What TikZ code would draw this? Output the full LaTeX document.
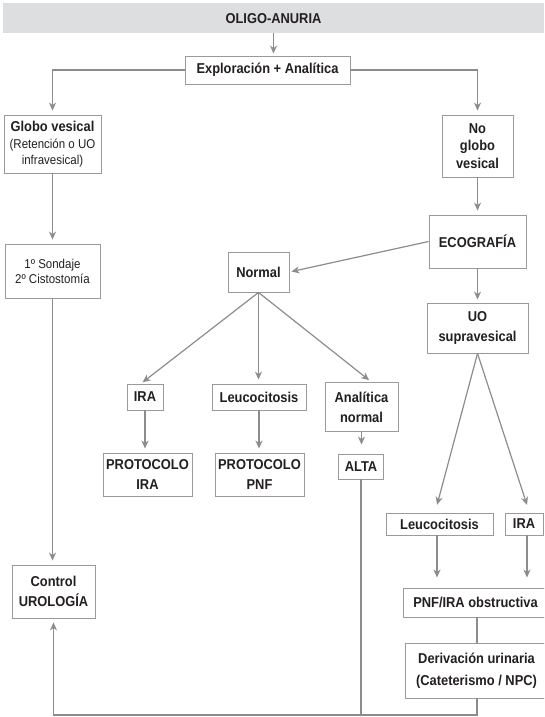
\documentclass[tikz,border=0pt]{standalone}
\usepackage{fontspec}
\setmainfont{Liberation Sans}[FakeStretch=0.9]
\usetikzlibrary{arrows.meta}
\definecolor{lc}{HTML}{8C8C8C}
\definecolor{bc}{HTML}{9A9A9A}
\definecolor{tc}{HTML}{231F20}
\definecolor{barc}{HTML}{DDDEDF}
\begin{document}
\begin{tikzpicture}[x=1pt,y=-1pt,
 box/.style={draw=bc,line width=0.9pt,fill=white,text=tc,align=center,inner sep=0pt,font=\fontsize{14.3}{20}\selectfont\bfseries},
 reg/.style={font=\fontsize{12.8}{15}\selectfont\mdseries},
 arr/.style={draw=lc,line width=1.2pt,-{Stealth[length=8pt,width=7pt,inset=2.5pt]},shorten >=4pt},
 ln/.style={draw=lc,line width=1.2pt}]
\useasboundingbox (0,0) rectangle (544,717);
\clip (0,0) rectangle (544,717);
\coordinate (ybot) at (0,715);
% nodes
\node[fill=barc,minimum width=541pt,minimum height=29.5pt,inner sep=0pt,text=tc,font=\fontsize{14.3}{20}\selectfont\bfseries] (bar) at (273.5,18.25) {OLIGO-ANURIA};
\node[box,minimum width=165pt,minimum height=28pt] (expl) at (267.5,70) {Exploración + Analítica};
\node[box,minimum width=97pt,minimum height=58pt] (globo) at (52.5,144) {Globo vesical\\[-3pt]{\mdseries\fontsize{12.8}{15}\selectfont (Retención o UO}\\[-4pt]{\mdseries\fontsize{12.8}{15}\selectfont infravesical)}};
\node[box,reg,minimum width=95pt,minimum height=54pt] (sond) at (52.5,271) {1º Sondaje\\2º Cistostomía};
\node[box,minimum width=83pt,minimum height=53pt] (control) at (53.5,591.5) {Control\\UROLOGÍA};
\node[box,minimum width=71pt,minimum height=62pt,font=\fontsize{14.3}{17.5}\selectfont\bfseries] (noglobo) at (477.5,146) {No\\globo\\vesical};
\node[box,minimum width=97pt,minimum height=53pt] (eco) at (477.5,241.5) {ECOGRAFÍA};
\node[box,minimum width=61pt,minimum height=40pt] (normal) at (258.5,272) {Normal};
\node[box,minimum width=101pt,minimum height=50pt] (uo) at (477.5,328) {UO\\supravesical};
\node[box,minimum width=36pt,minimum height=26pt] (ira1) at (145,397) {IRA};
\node[box,minimum width=94pt,minimum height=26pt] (leu1) at (259,397) {Leucocitosis};
\node[box,minimum width=73pt,minimum height=49pt] (anal) at (361.5,407) {Analítica\\normal};
\node[box,minimum width=89pt,minimum height=43pt] (pira) at (147.5,474.5) {PROTOCOLO\\IRA};
\node[box,minimum width=89pt,minimum height=43pt] (ppnf) at (259.5,474.5) {PROTOCOLO\\PNF};
\node[box,minimum width=45pt,minimum height=25pt] (alta) at (361,466.5) {ALTA};
\node[box,minimum width=107pt,minimum height=22pt] (leu2) at (439.5,524) {Leucocitosis};
\node[box,minimum width=38pt,minimum height=22pt] (ira2) at (524,524) {IRA};
\node[box,minimum width=145pt,minimum height=29pt] (pnfo) at (475.5,602.5) {PNF/IRA obstructiva};
\node[box,minimum width=143pt,minimum height=55pt,font=\fontsize{14.3}{22}\selectfont\bfseries] (deriv) at (476.5,670.5) {Derivación urinaria\\(Cateterismo / NPC)};
% connectors
\draw[arr,shorten >=2pt] (bar.south) -- (bar.south |- expl.north);
\draw[arr] (expl.west) -| (globo.north);
\draw[arr] (expl.east) -| (noglobo.north);
\draw[arr] (globo.south) -- (sond.north);
\draw[arr] (sond.south) -- (sond.south |- control.north);
\draw[arr] (noglobo.south) -- (eco.north);
\draw[arr,shorten >=2pt] (eco.west) -- (normal.east);
\draw[arr,shorten >=3pt] (eco.south) -- (uo.north);
\draw[arr,shorten >=2pt] (normal.south) -- ([xshift=-4pt]ira1.north);
\draw[arr,shorten >=4pt] (normal.south) -- (normal.south |- leu1.north);
\draw[arr,shorten >=3pt] (normal.south) -- ([xshift=10pt]anal.north);
\draw[arr] (ira1.south) -- (ira1.south |- pira.north);
\draw[arr] (leu1.south) -- (leu1.south |- ppnf.north);
\draw[arr,shorten >=9pt] (anal.south) -- (anal.south |- alta.north);
\draw[arr,shorten >=8pt] (uo.south) -- ([xshift=-4.5pt]leu2.north);
\draw[arr,shorten >=8pt] (uo.south) -- ([xshift=5.5pt]ira2.north);
\draw[arr,shorten >=10pt] ([xshift=-2.5pt]leu2.south) -- ([xshift=-2.5pt]leu2.south |- pnfo.north);
\draw[arr,shorten >=10pt] ([xshift=3pt]ira2.south) -- ([xshift=3pt]ira2.south |- pnfo.north);
\draw[ln] ([xshift=1.5pt]pnfo.south) -- ([xshift=1.5pt]pnfo.south |- deriv.north);
\draw[ln] (alta.south) -- (alta.south |- ybot);
\draw[arr] ([xshift=0.5pt]deriv.south) -- ([xshift=0.5pt]deriv.south |- ybot) -| (control.south);
\end{tikzpicture}
\end{document}
